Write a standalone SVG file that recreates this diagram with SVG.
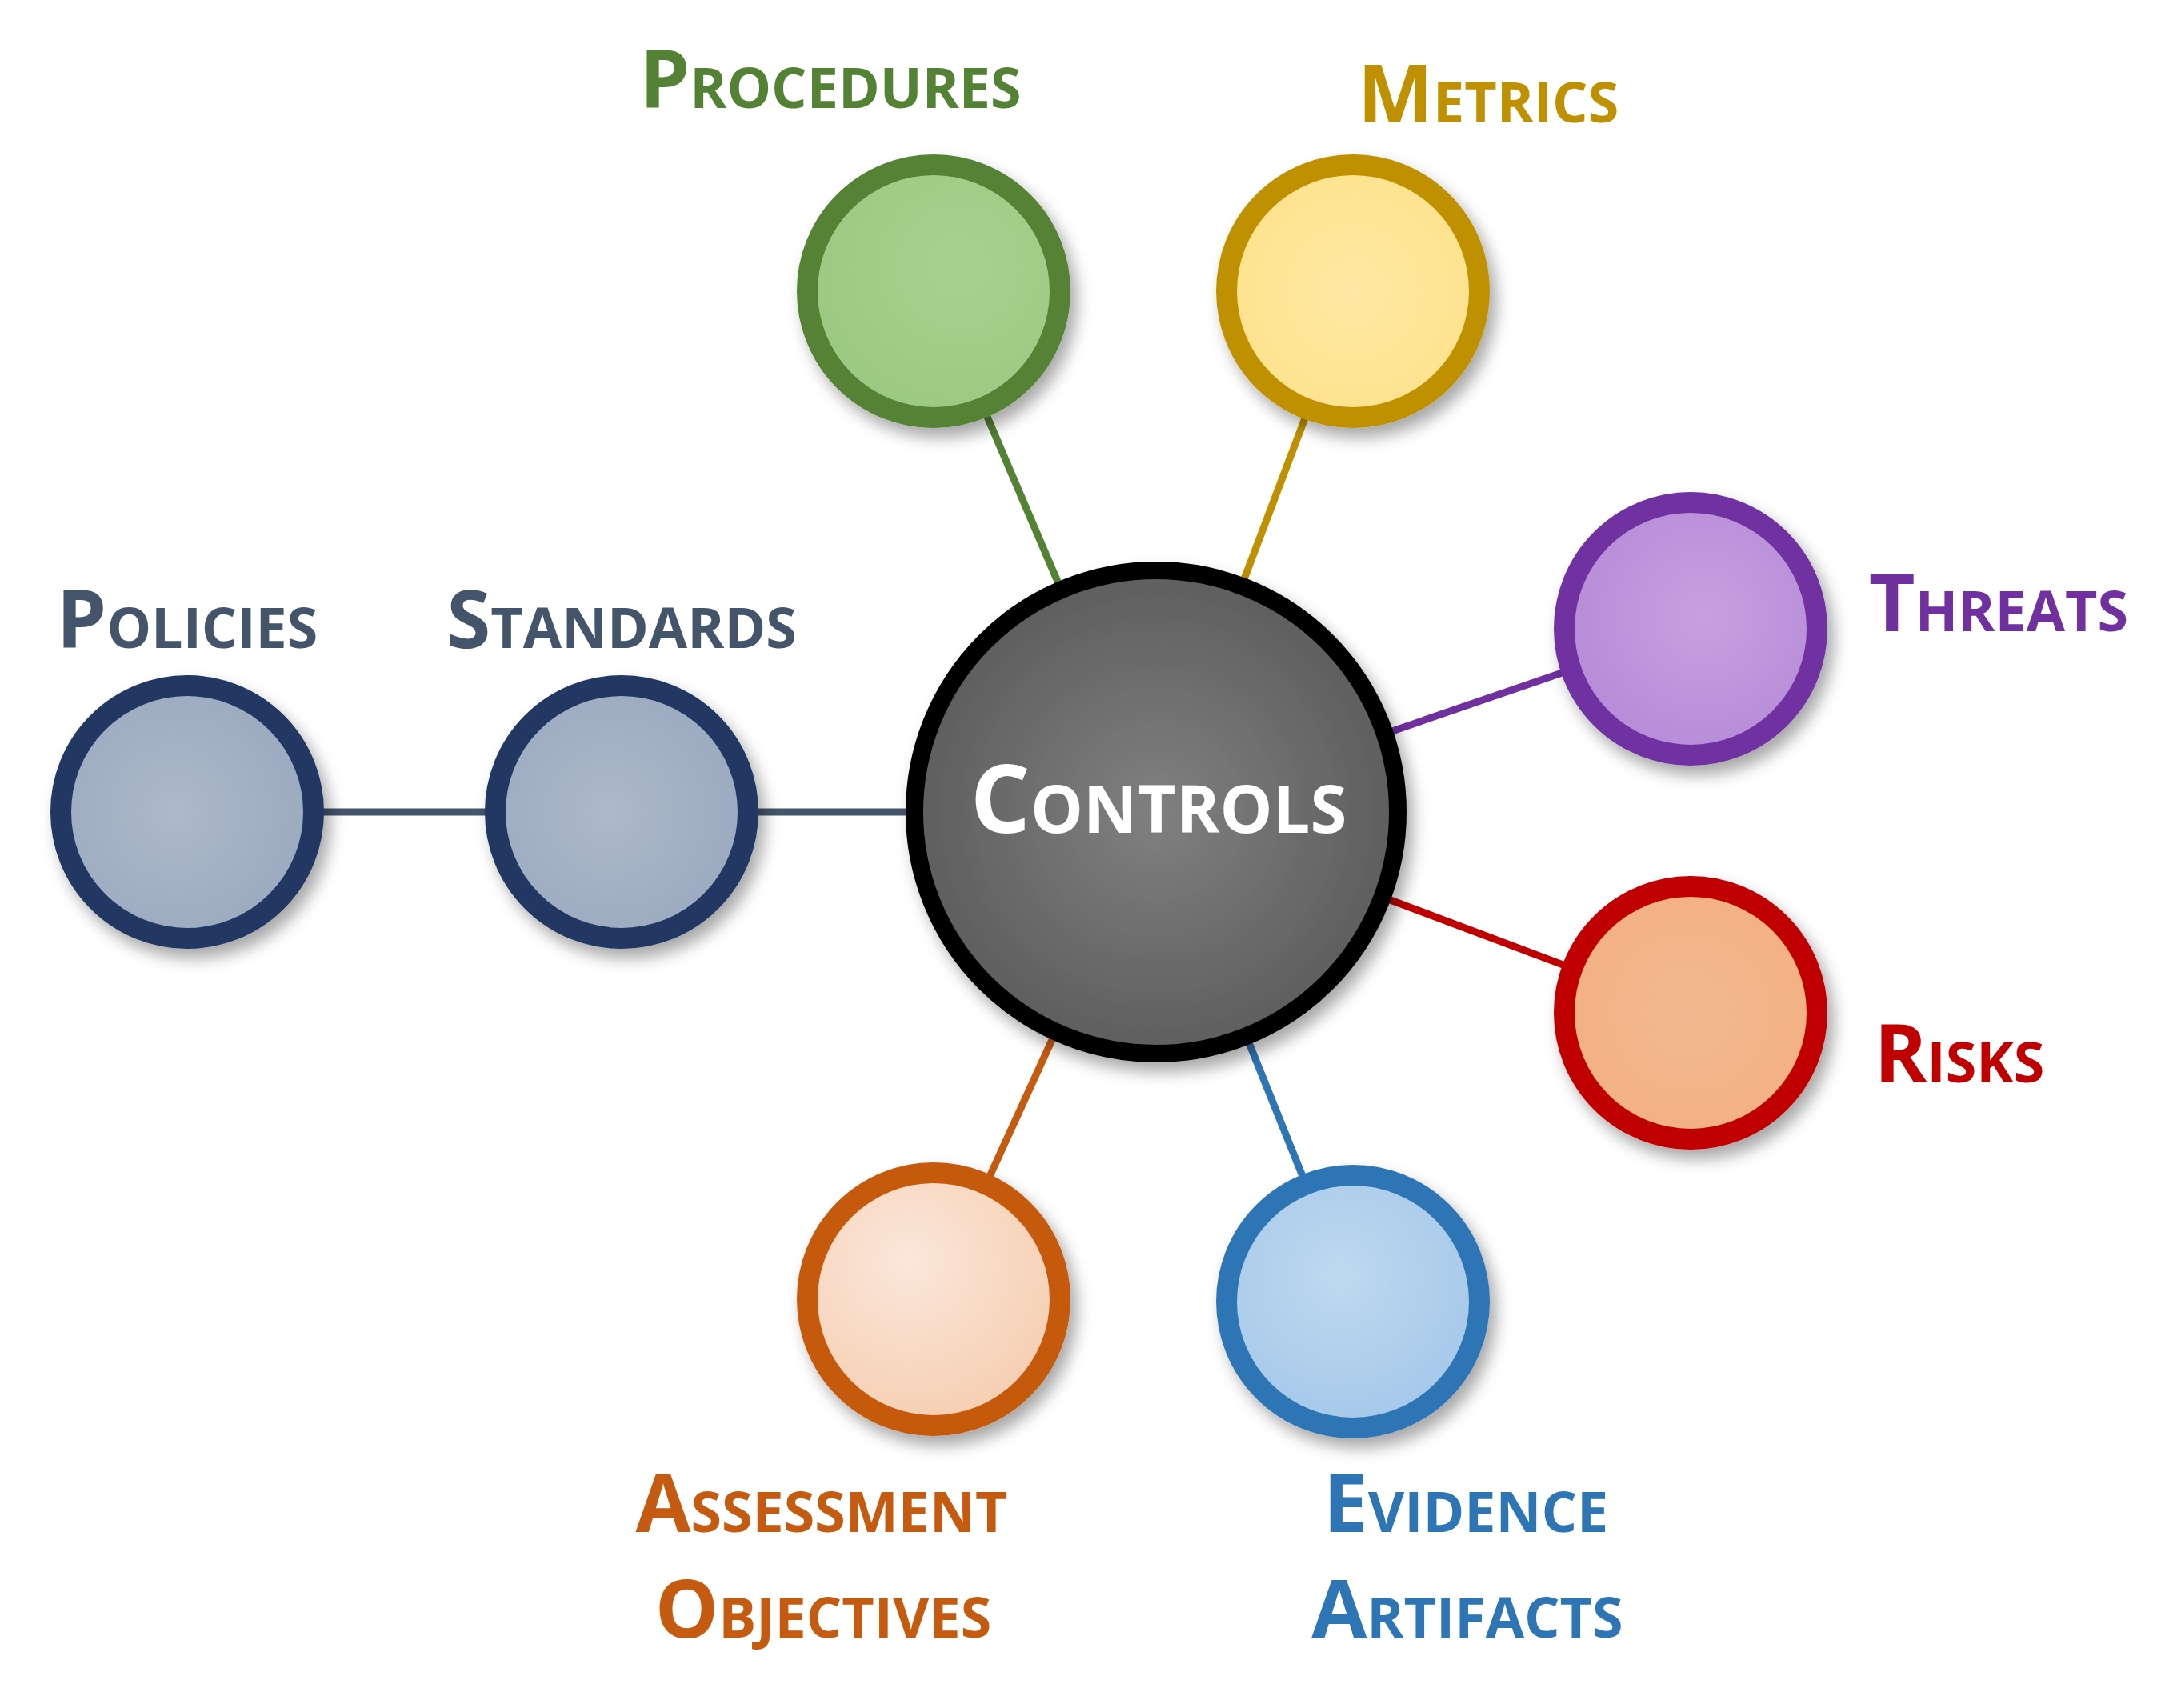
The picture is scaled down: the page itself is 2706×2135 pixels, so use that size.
<svg xmlns="http://www.w3.org/2000/svg" width="2706" height="2135" viewBox="0 0 2706 2135">
<defs>
<filter id="sh" x="-30%" y="-30%" width="160%" height="160%"><feGaussianBlur in="SourceAlpha" stdDeviation="10"/><feOffset dx="8" dy="12"/><feComponentTransfer><feFuncA type="linear" slope="0.35"/></feComponentTransfer><feMerge><feMergeNode/><feMergeNode in="SourceGraphic"/></feMerge></filter>
<radialGradient id="gC" cx="0.5" cy="0.5" r="0.5"><stop offset="0" stop-color="#808080"/><stop offset="1" stop-color="#5e5e5e"/></radialGradient>
<radialGradient id="gPo" cx="0.45" cy="0.5" r="0.55"><stop offset="0" stop-color="#aeb9c9"/><stop offset="1" stop-color="#9aaac0"/></radialGradient>
<radialGradient id="gPr" cx="0.6" cy="0.4" r="0.6"><stop offset="0" stop-color="#a9d18e"/><stop offset="1" stop-color="#9cc981"/></radialGradient>
<radialGradient id="gM" cx="0.5" cy="0.5" r="0.6"><stop offset="0" stop-color="#ffe9a3"/><stop offset="1" stop-color="#fde08a"/></radialGradient>
<radialGradient id="gT" cx="0.55" cy="0.45" r="0.6"><stop offset="0" stop-color="#c8a0e0"/><stop offset="1" stop-color="#b58ad8"/></radialGradient>
<radialGradient id="gR" cx="0.5" cy="0.5" r="0.6"><stop offset="0" stop-color="#f4b890"/><stop offset="1" stop-color="#f2b080"/></radialGradient>
<radialGradient id="gE" cx="0.45" cy="0.4" r="0.6"><stop offset="0" stop-color="#bfd9ef"/><stop offset="1" stop-color="#a5c8ea"/></radialGradient>
<radialGradient id="gA" cx="0.4" cy="0.35" r="0.65"><stop offset="0" stop-color="#fbe7da"/><stop offset="1" stop-color="#f6cfb2"/></radialGradient>
</defs>
<style>
text{font-family:"Open Sans","Liberation Sans",sans-serif;font-weight:bold;font-variant:small-caps;text-anchor:middle;font-size:100px}
.n{stroke-width:26;filter:url(#sh)}
.c line{stroke-width:9}
</style>
<rect width="2706" height="2135" fill="#fff"/>
<g id="connectors" class="c">
<line x1="234" y1="1015" x2="777" y2="1015" stroke="#44546a"/>
<line x1="777" y1="1015" x2="1445" y2="1015" stroke="#44546a"/>
<line x1="1167" y1="364" x2="1445" y2="1015" stroke="#548235"/>
<line x1="1691" y1="364" x2="1445" y2="1015" stroke="#bf9000"/>
<line x1="2113" y1="786" x2="1445" y2="1015" stroke="#7030a0"/>
<line x1="2113" y1="1266" x2="1445" y2="1015" stroke="#c00000"/>
<line x1="1691" y1="1627" x2="1445" y2="1015" stroke="#2e75b6"/>
<line x1="1167" y1="1624" x2="1445" y2="1015" stroke="#c55a11"/>
</g>
<g id="policies"><circle class="n" cx="234" cy="1015" r="158" fill="url(#gPo)" stroke="#203864"/><text x="234" y="810" fill="#44546a">Policies</text></g>
<g id="standards"><circle class="n" cx="777" cy="1015" r="158" fill="url(#gPo)" stroke="#203864"/><text x="777" y="810" fill="#44546a">Standards</text></g>
<g id="procedures"><circle class="n" cx="1167" cy="364" r="158" fill="url(#gPr)" stroke="#548235"/><text x="1038" y="135" fill="#548235">Procedures</text></g>
<g id="metrics"><circle class="n" cx="1691" cy="364" r="158" fill="url(#gM)" stroke="#bf9000"/><text x="1860" y="153" fill="#bf9000">Metrics</text></g>
<g id="threats"><circle class="n" cx="2113" cy="786" r="158" fill="url(#gT)" stroke="#7030a0"/><text x="2498" y="789" fill="#7030a0">Threats</text></g>
<g id="risks"><circle class="n" cx="2113" cy="1266" r="158" fill="url(#gR)" stroke="#c00000"/><text x="2449" y="1353" fill="#c00000">Risks</text></g>
<g id="evidence"><circle class="n" cx="1691" cy="1627" r="158" fill="url(#gE)" stroke="#2e75b6"/><text x="1832" y="1915" fill="#2e75b6">Evidence</text><text x="1834" y="2047" fill="#2e75b6">Artifacts</text></g>
<g id="assessment"><circle class="n" cx="1167" cy="1624" r="158" fill="url(#gA)" stroke="#c55a11"/><text x="1027" y="1915" fill="#c55a11">Assessment</text><text x="1029" y="2047" fill="#c55a11">Objectives</text></g>
<g id="controls"><circle cx="1445" cy="1015" r="302" fill="url(#gC)" stroke="#000" stroke-width="22" filter="url(#sh)"/><text x="1448" y="1041" fill="#fff" font-size="118" style="font-size:118px">Controls</text></g>
</svg>
